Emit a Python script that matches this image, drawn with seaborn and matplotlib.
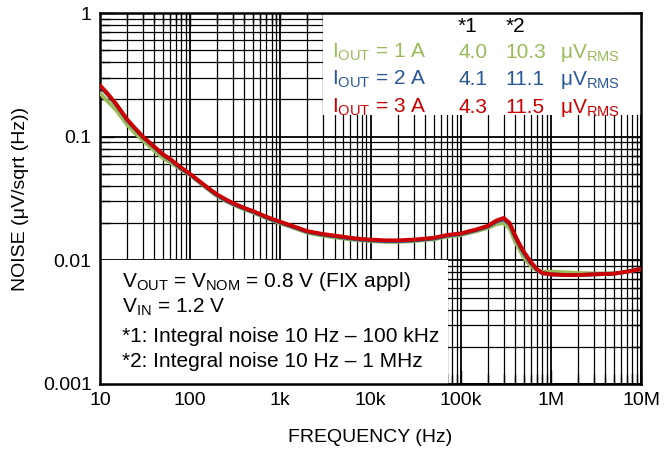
import matplotlib
matplotlib.use("Agg")
import matplotlib.pyplot as plt
import seaborn as sns
import pandas as pd
from matplotlib.patches import Rectangle
from matplotlib.ticker import FixedLocator, FixedFormatter, LogLocator, NullFormatter

sns.set_theme(style="white")
plt.rcParams['font.family'] = ['Liberation Sans', 'DejaVu Sans']
plt.rcParams['mathtext.fontset'] = 'custom'
plt.rcParams['mathtext.rm'] = 'Liberation Sans'
plt.rcParams['mathtext.it'] = 'Liberation Sans:italic'
plt.rcParams['mathtext.bf'] = 'Liberation Sans:bold'

# ---------------- data ----------------
freq = [10, 12, 15, 20, 25, 30, 40, 50, 60, 80, 100, 130, 170, 200, 250, 300, 400, 500,
        700, 1000, 1500, 2000, 3000, 5000, 7000, 10000, 15000, 20000, 30000, 50000,
        70000, 100000, 150000, 200000, 250000, 300000, 350000, 400000, 450000, 500000,
        600000, 700000, 800000, 1e6, 1.5e6, 2e6, 3e6, 5e6, 7e6, 1e7]

noise_1A = [0.225, 0.195, 0.165, 0.125, 0.105, 0.093, 0.077, 0.067, 0.062, 0.054, 0.049,
            0.042, 0.036, 0.033, 0.030, 0.0282, 0.0258, 0.0243, 0.0219, 0.0199, 0.0180,
            0.0167, 0.0158, 0.0150, 0.0146, 0.0143, 0.0141, 0.0141, 0.0143, 0.0148,
            0.0155, 0.0160, 0.0172, 0.0183, 0.0196, 0.0200, 0.0180, 0.0142, 0.0122,
            0.0106, 0.0090, 0.0083, 0.0081, 0.0081, 0.0080, 0.0079, 0.0078, 0.0078,
            0.0081, 0.0085]

noise_2A = [0.255, 0.222, 0.183, 0.136, 0.114, 0.099, 0.082, 0.071, 0.065, 0.055, 0.0495,
            0.0425, 0.0365, 0.0335, 0.0305, 0.0286, 0.0262, 0.0247, 0.0222, 0.0202, 0.0183,
            0.0170, 0.0161, 0.0153, 0.0148, 0.0145, 0.0143, 0.0143, 0.0145, 0.0150,
            0.0158, 0.0163, 0.0176, 0.0188, 0.0206, 0.0215, 0.0196, 0.0156, 0.0132,
            0.0115, 0.0095, 0.0084, 0.0079, 0.0077, 0.0076, 0.0076, 0.0077, 0.0078,
            0.0081, 0.0085]

noise_3A = [0.26, 0.225, 0.185, 0.138, 0.115, 0.100, 0.083, 0.072, 0.066, 0.056, 0.050,
            0.043, 0.037, 0.034, 0.031, 0.029, 0.0265, 0.025, 0.0225, 0.0205, 0.0185,
            0.0172, 0.0163, 0.0155, 0.0150, 0.0147, 0.0145, 0.0145, 0.0147, 0.0152,
            0.0160, 0.0165, 0.0178, 0.0190, 0.0210, 0.0220, 0.0200, 0.0160, 0.0135,
            0.0118, 0.0097, 0.0085, 0.0079, 0.0077, 0.0076, 0.0076, 0.0077, 0.0078,
            0.0081, 0.0085]

currents = ["1 A", "2 A", "3 A"]
int1 = ["4.0", "4.1", "4.3"]
int2 = ["10.3", "11.1", "11.5"]
colors = ["#9BBB59", "#2B5797", "#CC0000"]

xticks = [10, 100, 1e3, 1e4, 1e5, 1e6, 1e7]
xticklabels = ["10", "100", "1k", "10k", "100k", "1M", "10M"]
yticks = [0.001, 0.01, 0.1, 1]
yticklabels = ["0.001", "0.01", "0.1", "1"]

notes = [r"V$_{\mathrm{OUT}}$ = V$_{\mathrm{NOM}}$ = 0.8 V (FIX appl)",
         r"V$_{\mathrm{IN}}$ = 1.2 V",
         "*1: Integral noise 10 Hz \u2013 100 kHz",
         "*2: Integral noise 10 Hz \u2013 1 MHz"]

df = pd.concat([
    pd.DataFrame({"freq": freq, "noise": v, "current": c})
    for v, c in zip([noise_1A, noise_2A, noise_3A], currents)
])

# ---------------- figure ----------------
fig = plt.figure(figsize=(6.71, 4.58), dpi=100)
pos = [100 / 671, 1 - 384 / 458, 541 / 671, 371 / 458]

# background axes with the grid
axg = fig.add_axes(pos)
axg.set_xscale("log")
axg.set_yscale("log")
axg.set_xlim(10, 1e7)
axg.set_ylim(0.001, 1)
axg.xaxis.set_major_locator(LogLocator(base=10))
axg.xaxis.set_minor_locator(LogLocator(base=10, subs=range(2, 10)))
axg.yaxis.set_major_locator(LogLocator(base=10))
axg.yaxis.set_minor_locator(LogLocator(base=10, subs=range(2, 10)))
axg.grid(True, which="major", color="black", linewidth=1.3)
axg.grid(True, which="minor", color="black", linewidth=0.9)
axg.tick_params(which="both", length=0, labelbottom=False, labelleft=False)
for s in axg.spines.values():
    s.set_visible(False)
axg.set_facecolor("white")

# main axes
ax = fig.add_axes(pos, sharex=axg, sharey=axg)
ax.patch.set_alpha(0)
sns.lineplot(data=df, x="freq", y="noise", hue="current", hue_order=currents,
             palette=colors, linewidth=2.8, legend=False, ax=ax, sort=True,
             estimator=None, zorder=3)
ax.set_xscale("log")
ax.set_yscale("log")
ax.set_xlim(10, 1e7)
ax.set_ylim(0.001, 1)

# white boxes covering the grid
ax.add_patch(Rectangle((3000, 0.15), 1e7 - 3000, 1 - 0.15, facecolor="white",
                       edgecolor="none", zorder=1))
ax.add_patch(Rectangle((10, 0.001), 72000 - 10, 0.01 - 0.001, facecolor="white",
                       edgecolor="none", zorder=1))

ax.xaxis.set_major_locator(FixedLocator(xticks))
ax.xaxis.set_major_formatter(FixedFormatter(xticklabels))
ax.yaxis.set_major_locator(FixedLocator(yticks))
ax.yaxis.set_major_formatter(FixedFormatter(yticklabels))
ax.xaxis.set_minor_locator(LogLocator(base=10, subs=range(2, 10)))
ax.yaxis.set_minor_locator(LogLocator(base=10, subs=range(2, 10)))
ax.xaxis.set_minor_formatter(NullFormatter())
ax.yaxis.set_minor_formatter(NullFormatter())
ax.tick_params(which="both", direction="in", top=True, right=True, bottom=True, left=True,
               colors="black", labelsize=14, width=1.0)
ax.tick_params(which="major", length=10)
ax.tick_params(which="minor", length=7)
ax.tick_params(axis="x", pad=6)
ax.tick_params(axis="y", pad=6)
for s in ax.spines.values():
    s.set_visible(True)
    s.set_color("black")
    s.set_linewidth(1.8)

ax.set_xlabel("FREQUENCY (Hz)", fontsize=14, labelpad=14, color="black")
ax.set_ylabel("NOISE (\u03bcV/sqrt (Hz))", fontsize=14, labelpad=10, color="black")

# legend-like table (top right)
fs = 15
ax.text(0.661, 0.949, "*1", transform=ax.transAxes, fontsize=fs, color="black")
ax.text(0.750, 0.949, "*2", transform=ax.transAxes, fontsize=fs, color="black")
rows_y = [0.879, 0.806, 0.730]
for yv, c, a, b, col in zip(rows_y, currents, int1, int2, colors):
    ax.text(0.428, yv, r"I$_{\mathrm{OUT}}$ = " + c, transform=ax.transAxes,
            fontsize=fs, color=col, va="baseline")
    ax.text(0.663, yv, a, transform=ax.transAxes, fontsize=fs, color=col, va="baseline")
    ax.text(0.750, yv, b, transform=ax.transAxes, fontsize=fs, color=col, va="baseline")
    ax.text(0.850, yv, "\u03bcV$_{\\mathrm{RMS}}$", transform=ax.transAxes,
            fontsize=fs, color=col, va="baseline")

# notes box (bottom left)
notes_y = [0.261, 0.191, 0.113, 0.046]
for yv, t in zip(notes_y, notes):
    ax.text(0.041, yv, t, transform=ax.transAxes, fontsize=fs, color="black",
            va="baseline")

fig.savefig("out.png", dpi=100)
